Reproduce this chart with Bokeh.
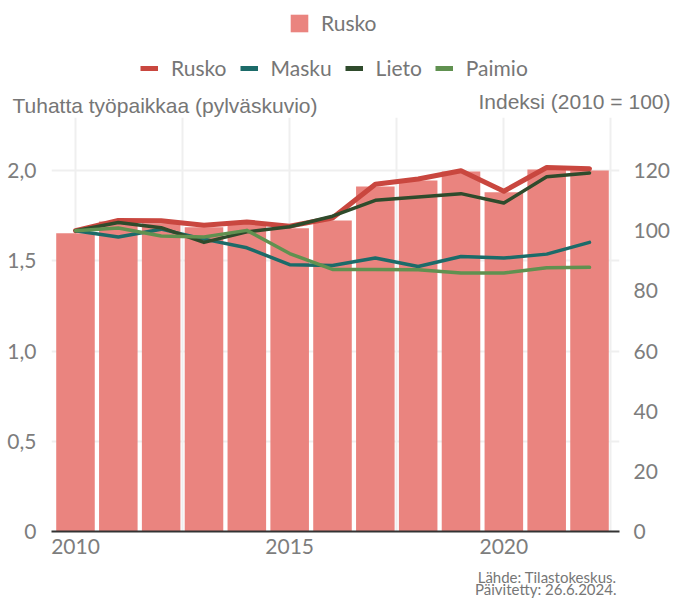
from bokeh.plotting import figure
from bokeh.models import (Range1d, LinearAxis, FixedTicker, Label, Legend, LegendItem)
from bokeh.embed import file_html
from bokeh.resources import INLINE

years = [2010, 2011, 2012, 2013, 2014, 2015, 2016, 2017, 2018, 2019, 2020, 2021, 2022]
rusko_jobs = [1.653, 1.717, 1.708, 1.685, 1.703, 1.680, 1.723, 1.911, 1.945, 1.994, 1.880, 2.005, 2.000]
rusko_idx = [100, 103.4, 103.3, 101.8, 102.9, 101.5, 104.2, 115.4, 117.2, 119.9, 113.1, 121.0, 120.6]
masku_idx = [100, 97.9, 100.5, 97.2, 94.3, 88.7, 88.4, 90.9, 88.1, 91.4, 90.9, 92.2, 96.1]
lieto_idx = [100, 102.7, 101.0, 96.1, 99.6, 101.3, 104.8, 110.1, 111.2, 112.3, 109.2, 117.9, 119.2]
paimio_idx = [100, 100.9, 98.2, 97.9, 100.1, 92.4, 87.1, 87.1, 87.0, 85.9, 85.9, 87.7, 87.8]

series_names = ["Rusko", "Masku", "Lieto", "Paimio"]
left_ticks = [0, 0.5, 1.0, 1.5, 2.0]
left_tick_labels = ["0", "0,5", "1,0", "1,5", "2,0"]
right_ticks = [0, 20, 40, 60, 80, 100, 120]
x_ticks = [2010, 2015, 2020]
x_grid_ticks = [2010, 2012.5, 2015, 2017.5, 2020, 2022.5]

bar_color = "#EA847F"
line_colors = {"Rusko": "#C9473F", "Masku": "#1C6B69", "Lieto": "#2F4B2C", "Paimio": "#609150"}
line_widths = {"Rusko": 5, "Masku": 3.5, "Lieto": 3.5, "Paimio": 3.5}
text_gray = "#767676"
tick_gray = "#7d7d7d"
tick_font = "Lato"
title_font = "Liberation Sans"

W = 680
series_vals = {"Rusko": rusko_idx, "Masku": masku_idx, "Lieto": lieto_idx, "Paimio": paimio_idx}

HH = 117                    # header strip height
FRAME_H = 531 - HH          # chart frame height
Y_TOP = FRAME_H / 180.5     # left axis top (2.0 sits 361 px above the baseline)
BASE_FIX = 5                # label baseline correction

# ---------------- main chart ----------------
p = figure(width=W, height=FRAME_H + 26, output_backend="svg", toolbar_location=None,
           x_range=Range1d(2009.44, 2022.70), y_range=Range1d(0, Y_TOP),
           min_border_left=51, min_border_right=W - 51 - 568, min_border_top=0, min_border_bottom=26)
p.extra_y_ranges = {"idx": Range1d(0, Y_TOP * 60)}
p.outline_line_color = None

p.ygrid.ticker = FixedTicker(ticks=left_ticks[1:])
p.ygrid.grid_line_color = "#efefef"
p.ygrid.grid_line_width = 2
p.xgrid.ticker = FixedTicker(ticks=x_grid_ticks)
p.xgrid.grid_line_color = "#efefef"
p.xgrid.grid_line_width = 2

p.vbar(x=years, top=rusko_jobs, width=0.9, fill_color=bar_color, line_color=None)

for name in series_names:
    p.line(years, series_vals[name], y_range_name="idx", line_color=line_colors[name],
           line_width=line_widths[name], line_join="round", line_cap="round")

p.xaxis.ticker = FixedTicker(ticks=x_ticks)
p.xaxis.axis_line_color = "#333333"
p.xaxis.axis_line_width = 2
p.xaxis.major_tick_line_color = None
p.xaxis.minor_tick_line_color = None
p.xaxis.major_label_text_font = tick_font
p.xaxis.major_label_text_font_size = "21px"
p.xaxis.major_label_text_color = tick_gray
p.xaxis.major_label_standoff = 1

p.yaxis.ticker = FixedTicker(ticks=left_ticks)
p.yaxis.major_label_overrides = {t: l for t, l in zip(left_ticks, left_tick_labels)}
p.yaxis.axis_line_color = None
p.yaxis.major_tick_line_color = None
p.yaxis.minor_tick_line_color = None
p.yaxis.major_label_text_font = tick_font
p.yaxis.major_label_text_font_size = "21px"
p.yaxis.major_label_text_color = tick_gray
p.yaxis.major_label_standoff = 9

ra = LinearAxis(y_range_name="idx", ticker=FixedTicker(ticks=right_ticks))
ra.axis_line_color = None
ra.major_tick_line_color = None
ra.minor_tick_line_color = None
ra.major_label_text_font = tick_font
ra.major_label_text_font_size = "21px"
ra.major_label_text_color = tick_gray
ra.major_label_standoff = 8
p.add_layout(ra, "right")

# ---------------- header (legends + axis titles) ----------------
hdr = figure(width=W, height=HH, output_backend="svg", toolbar_location=None,
             x_axis_type=None, y_axis_type=None, x_range=Range1d(0, 1), y_range=Range1d(0, 1),
             min_border=0)
hdr.outline_line_color = None
hdr.grid.visible = False
# legend keys share the chart's styles (their data lie outside this strip's ranges)
hbar = hdr.vbar(x=years, top=rusko_jobs, width=0.9, fill_color=bar_color, line_color=None)
hlines = {}
for name in series_names:
    hlines[name] = hdr.line(years, series_vals[name], line_color=line_colors[name],
                            line_width=5, line_cap="butt")


def style_legend(lg):
    lg.orientation = "horizontal"
    lg.border_line_color = None
    lg.background_fill_alpha = 0
    lg.padding = 0
    lg.margin = 0
    lg.label_text_font = tick_font
    lg.label_text_font_size = "21px"
    lg.label_text_color = text_gray


leg1 = Legend(items=[LegendItem(label="Rusko", renderers=[hbar])], location=(288, 80 + HH - 115))
style_legend(leg1)
leg1.glyph_width = 22
leg1.glyph_height = 22
leg1.label_standoff = 11
hdr.add_layout(leg1, "center")

leg2 = Legend(items=[LegendItem(label=n, renderers=[hlines[n]]) for n in series_names],
              location=(140, 35 + HH - 115))
style_legend(leg2)
leg2.glyph_width = 18
leg2.glyph_height = 18
leg2.label_standoff = 13
leg2.spacing = 13
hdr.add_layout(leg2, "center")

hdr.add_layout(Label(x=12, y=HH - 110 + BASE_FIX, x_units="screen", y_units="screen",
                     text="Tuhatta työpaikkaa (pylväskuvio)", text_font=title_font,
                     text_font_size="21px", text_color=text_gray, text_baseline="alphabetic"))
hdr.add_layout(Label(x=670, y=HH - 106 + BASE_FIX, x_units="screen", y_units="screen",
                     text="Indeksi (2010 = 100)", text_font=title_font, text_align="right",
                     text_font_size="21px", text_color=text_gray, text_baseline="alphabetic"))

# ---------------- footer (source) ----------------
FH = 41
FB = 531 + 26 + FH          # footer bottom on the page
ftr = figure(width=W, height=FH, output_backend="svg", toolbar_location=None,
             x_axis_type=None, y_axis_type=None, x_range=Range1d(0, 1), y_range=Range1d(0, 1),
             min_border=0)
ftr.outline_line_color = None
ftr.grid.visible = False
ftr.add_layout(Label(x=616, y=FB - 581 + BASE_FIX, x_units="screen", y_units="screen",
                     text="Lähde: Tilastokeskus.", text_font=tick_font, text_align="right",
                     text_font_size="15px", text_color=text_gray, text_baseline="alphabetic"))
ftr.add_layout(Label(x=616, y=FB - 593 + BASE_FIX, x_units="screen", y_units="screen",
                     text="Päivitetty: 26.6.2024.", text_font=tick_font, text_align="right",
                     text_font_size="15px", text_color=text_gray, text_baseline="alphabetic"))

open("out.html", "w").write(file_html([hdr, p, ftr], INLINE))
